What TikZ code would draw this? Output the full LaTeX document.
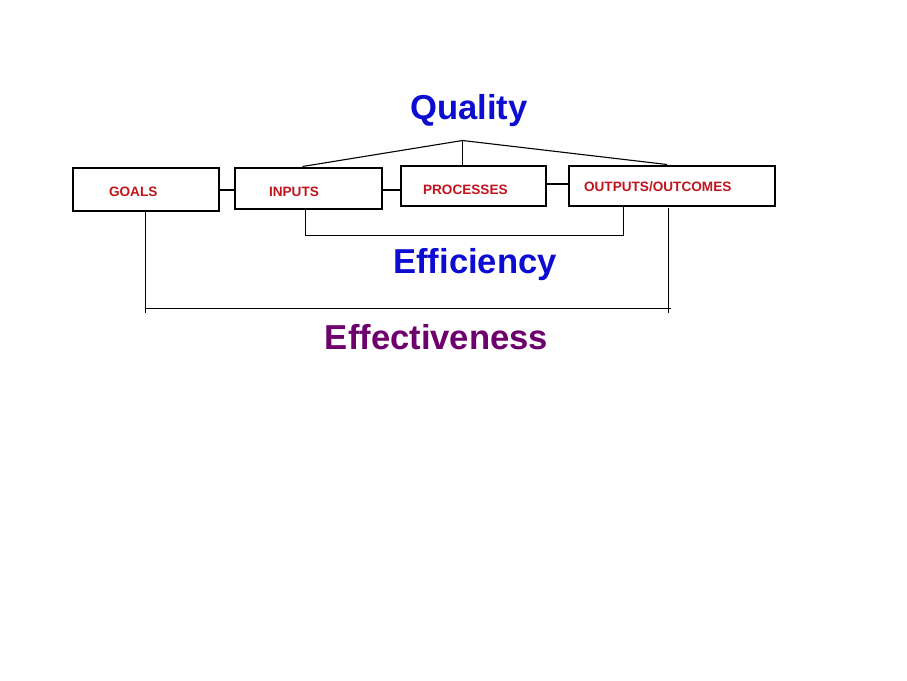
\documentclass[tikz,border=0pt]{standalone}
\usepackage{fontspec}
\setmainfont{Liberation Sans}
\definecolor{lblred}{RGB}{195,20,30}
\definecolor{qblue}{RGB}{12,12,210}
\definecolor{effpurple}{RGB}{110,0,110}
\begin{document}
\begin{tikzpicture}[x=1pt,y=-1pt,line width=1.1pt,
  box/.style={draw=black,rectangle,inner sep=0pt,outer sep=0pt},
  lbl/.style={anchor=base west,inner sep=0pt,text=lblred,font=\fontsize{13.6}{16}\selectfont\bfseries},
  big/.style={anchor=base,inner sep=0pt,font=\fontsize{34.6}{40}\selectfont\bfseries}]
\useasboundingbox[fill=white] (0,0) rectangle (907,680);
% boxes
\node[box,minimum width=146pt,minimum height=43pt] (goals) at (146,189.5) {};
\node[box,minimum width=147pt,minimum height=41pt] (inputs) at (308.5,188.5) {};
\node[box,minimum width=145pt,minimum height=40pt] (processes) at (473.5,186) {};
\node[box,minimum width=206pt,minimum height=40pt] (outputs) at (672,186) {};
% labels
\node[lbl] (tgoals) at (108.5,196.5) {GOALS};
\node[lbl] (tinputs) at (268.5,196.5) {INPUTS};
\node[lbl] (tprocesses) at (422.5,194) {PROCESSES};
\node[lbl] (toutputs) at (583.5,191) {OUTPUTS/OUTCOMES};
\node[big,text=qblue] (quality) at (469,119) {Quality};
\node[big,text=qblue] (efficiency) at (475,273) {Efficiency};
\node[big,text=effpurple] (effectiveness) at (436.5,349) {Effectiveness};
% chain connectors
\draw (goals.east |- 0,190) -- (inputs.west |- 0,190);
\draw (inputs.east |- 0,190) -- (processes.west |- 0,190);
\draw (processes.east |- 0,184) -- (outputs.west |- 0,184);
% quality roof
\coordinate (apex) at (462.5,140.5);
\coordinate (roofl) at (302.5,166.5);
\coordinate (roofr) at (667,164.5);
\draw (roofl) -- (apex) -- (roofr);
\draw (apex) -- (apex |- processes.north);
% efficiency bracket
\coordinate (effl) at (305.5,235.5);
\coordinate (effr) at (623.5,235.5);
\draw (effl |- inputs.south) -- (effl) -- (effr) -- (effr |- outputs.south);
% effectiveness bracket
\coordinate (efvl) at (145.5,308.5);
\coordinate (efvr) at (668.5,308.5);
\draw (efvl |- goals.south) -- (145.5,313);
\draw (668.5,208) -- (668.5,313);
\draw (efvl) -- (671,308.5);
\end{tikzpicture}
\end{document}
